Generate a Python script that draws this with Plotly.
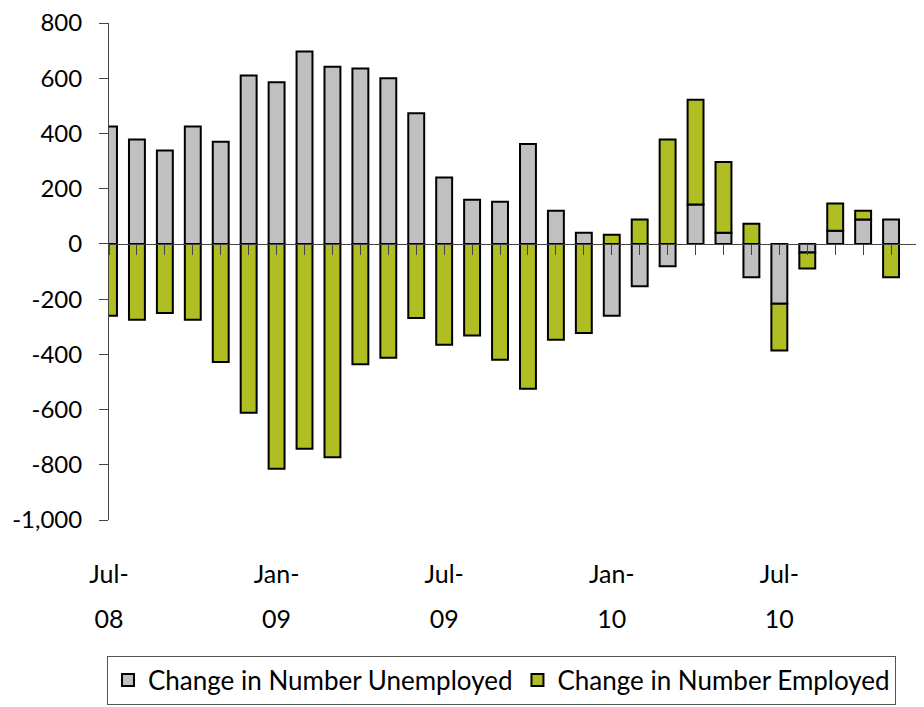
import plotly.graph_objects as go

# ---------------- data ----------------
months = ["Jul-08", "Aug-08", "Sep-08", "Oct-08", "Nov-08", "Dec-08",
          "Jan-09", "Feb-09", "Mar-09", "Apr-09", "May-09", "Jun-09",
          "Jul-09", "Aug-09", "Sep-09", "Oct-09", "Nov-09", "Dec-09",
          "Jan-10", "Feb-10", "Mar-10", "Apr-10", "May-10", "Jun-10",
          "Jul-10", "Aug-10", "Sep-10", "Oct-10", "Nov-10"]

unemployed = [425, 378, 338, 425, 370, 610, 585, 697, 642, 635, 600, 473,
              240, 160, 153, 362, 120, 40, -260, -153, -81, 143, 40, -121,
              -217, -31, 48, 88, 88]

employed = [-260, -275, -250, -275, -428, -612, -814, -742, -773, -436, -412, -268,
            -365, -332, -420, -525, -347, -323, 33, 88, 378, 379, 257, 73,
            -169, -58, 98, 32, -121]

label_months = ["Jul-08", "Jan-09", "Jul-09", "Jan-10", "Jul-10"]
month_text = ["Jul-", "Jan-", "Jul-", "Jan-", "Jul-"]
year_text = ["08", "09", "09", "10", "10"]

y_ticks = [800, 600, 400, 200, 0, -200, -400, -600, -800, -1000]
y_tick_text = ["800", "600", "400", "200", "0", "-200", "-400", "-600", "-800", "-1,000"]

series_names = ["Change in Number Unemployed", "Change in Number Employed"]

# ---------------- style ----------------
GRAY = "#C0C0C0"
GREEN = "#B0BD23"
FONT = "Lato, Liberation Sans, Arial, sans-serif"
AXIS = "#444444"

y_min, y_max = -1000, 800
n_slots = len(months)          # axis runs to the month after the last bar
label_idx = [months.index(m) for m in label_months]

fig = go.Figure()
fig.add_trace(go.Bar(x=months, y=unemployed, name=series_names[0],
                     marker=dict(color=GRAY, line=dict(color="black", width=2))))
fig.add_trace(go.Bar(x=months, y=employed, name=series_names[1],
                     marker=dict(color=GREEN, line=dict(color="black", width=2))))

zero_pos = (0 - y_min) / (y_max - y_min)

# page body has an 8px margin, so the figure is sized to fit the 924x707 window
fig.update_layout(
    width=916, height=699,
    margin=dict(l=101, r=5, t=15, b=187, autoexpand=False),
    paper_bgcolor="white", plot_bgcolor="white",
    barmode="relative", bargap=0.43,
    font=dict(family=FONT, size=25, color="black"),
    showlegend=True,
    legend=dict(orientation="h", x=-0.0025, xanchor="left", y=-0.273, yanchor="top",
                bordercolor="#555555", borderwidth=1, bgcolor="white",
                font=dict(family=FONT, size=26, color="black"),
                traceorder="normal"),
    xaxis=dict(type="category", range=[0, n_slots], showline=False, showgrid=False,
               zeroline=False, ticks="", tickmode="array", automargin=False,
               tickvals=label_months, ticktext=month_text,
               ticklabelstandoff=37, tickangle=0),
    xaxis2=dict(overlaying="x", anchor="free", position=zero_pos, range=[0, n_slots],
                showline=True, linecolor=AXIS, linewidth=1, showgrid=False, zeroline=False,
                ticks="outside", ticklen=10, tickcolor=AXIS, tickwidth=1, automargin=False,
                tickmode="linear", tick0=0, dtick=1, showticklabels=False),
    xaxis3=dict(overlaying="x", anchor="free", position=0, range=[0, n_slots],
                showline=False, showgrid=False, zeroline=False, ticks="", automargin=False,
                tickmode="array", tickvals=label_idx, ticktext=year_text,
                ticklabelstandoff=82, tickangle=0),
    yaxis=dict(range=[y_min, y_max], domain=[0, 1], showgrid=False, zeroline=False,
               showline=True, linecolor=AXIS, linewidth=1, automargin=False,
               ticks="outside", ticklen=9, tickcolor=AXIS, tickwidth=1,
               tickmode="array", tickvals=y_ticks, ticktext=y_tick_text,
               tickfont=dict(size=24), ticklabeloverflow="allow",
               ticklabelstandoff=12),
)

# invisible helper traces so the extra axes are rendered
fig.add_trace(go.Scatter(x=[0], y=[0], xaxis="x2", mode="markers",
                         marker=dict(opacity=0), showlegend=False, hoverinfo="skip"))
fig.add_trace(go.Scatter(x=[0], y=[0], xaxis="x3", mode="markers",
                         marker=dict(opacity=0), showlegend=False, hoverinfo="skip"))

fig.write_html("out.html")
